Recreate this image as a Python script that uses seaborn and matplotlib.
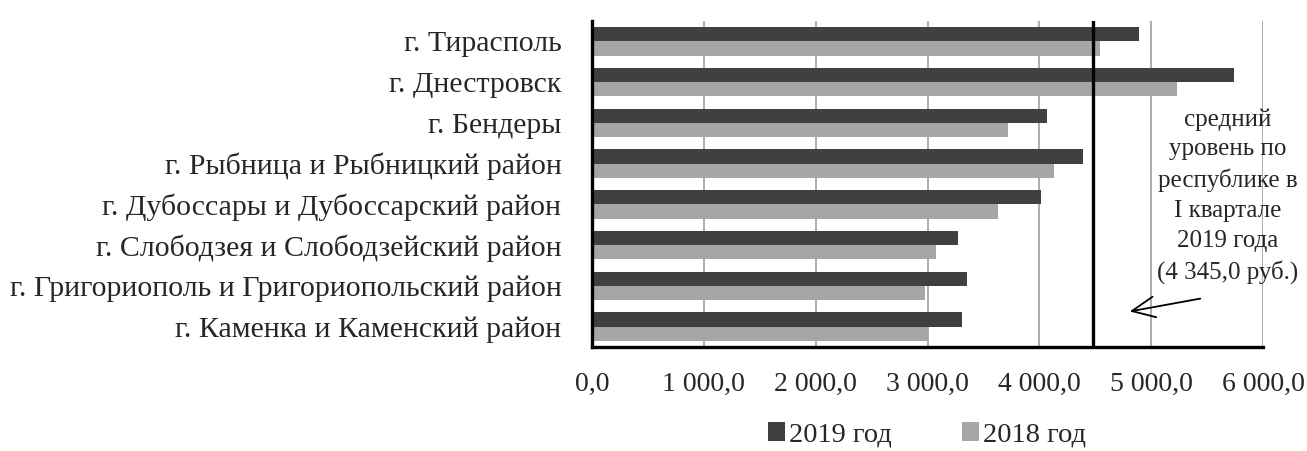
# ==========================================================
# СРЕДНЯЯ ЗАРАБОТНАЯ ПЛАТА ПО ГОРОДАМ И РАЙОНАМ
# ==========================================================

import pandas as pd
import matplotlib.pyplot as plt
import seaborn as sns
from matplotlib.patches import Patch
from matplotlib.ticker import FuncFormatter

# ==========================================================
# DATA
# ==========================================================

regions = [
    "г. Тирасполь",
    "г. Днестровск",
    "г. Бендеры",
    "г. Рыбница и Рыбницкий район",
    "г. Дубоссары и Дубоссарский район",
    "г. Слободзея и Слободзейский район",
    "г. Григориополь и Григориопольский район",
    "г. Каменка и Каменский район",
]

values_2019 = [4888, 5744, 4072, 4388, 4016, 3276, 3352, 3308]

values_2018 = [4544, 5228, 3724, 4132, 3632, 3076, 2980, 3004]

series = ["2019 год", "2018 год"]

avg_level = 4480

avg_text = "средний\nуровень по\nреспублике в\nI квартале\n2019 года\n(4 345,0 руб.)"

x_ticks = [0, 1000, 2000, 3000, 4000, 5000, 6000]

# ==========================================================
# LONG TABLE
# ==========================================================

df = pd.DataFrame({
    "Region": regions * 2,
    "Value": values_2019 + values_2018,
    "Year": [series[0]] * len(regions) + [series[1]] * len(regions)
})

# ==========================================================
# PLOT
# ==========================================================

sns.set_style("white")

plt.rcParams["font.family"] = ["Liberation Serif", "DejaVu Serif"]

colors = {"2019 год": "#404040", "2018 год": "#a6a6a6"}

fig = plt.figure(figsize=(13.07, 4.51), dpi=100)

ax = fig.add_axes([592 / 1307, 1 - 347 / 451, 671 / 1307, 326 / 451])

ax.set_axisbelow(True)

for x in x_ticks[1:]:
    ax.axvline(x, color="#a6a6a6", lw=1.3, zorder=0)

sns.barplot(
    data=df,
    y="Region",
    x="Value",
    hue="Year",
    order=regions,
    hue_order=series,
    palette=colors,
    orient="h",
    width=0.7,
    saturation=1,
    linewidth=0,
    legend=False,
    ax=ax
)

ax.axvline(avg_level, color="black", lw=2.4, zorder=3)

ax.set_xlim(0, 6000)
ax.set_ylim(len(regions) - 0.5, -0.5)

ax.set_xlabel("")
ax.set_ylabel("")

# spines
for side in ["top", "right"]:
    ax.spines[side].set_visible(False)

for side in ["left", "bottom"]:
    ax.spines[side].set_color("black")
    ax.spines[side].set_linewidth(2.4)

# x ticks
ax.set_xticks(x_ticks)
ax.xaxis.set_major_formatter(
    FuncFormatter(lambda v, p: f"{v:,.1f}".replace(",", " ").replace(".", ","))
)
ax.tick_params(axis="x", direction="out", length=6, width=2,
               color="black", labelsize=20, pad=12)

# y ticks: marks at boundaries, labels at centres
ax.set_yticks([i - 0.5 for i in range(len(regions) + 1)])
ax.set_yticklabels([])
ax.set_yticks(range(len(regions)), minor=True)
ax.set_yticklabels(regions, minor=True)
ax.tick_params(axis="y", which="major", direction="out", length=6,
               width=2, color="black")
ax.tick_params(axis="y", which="minor", length=0, labelsize=21.5, pad=22)

# ==========================================================
# ANNOTATION
# ==========================================================

fig.text(
    1228 / 1307,
    1 - 196 / 451,
    avg_text,
    ha="center",
    va="center",
    fontsize=18,
    linespacing=1.45
)

ax.annotate(
    "",
    xy=(4784, 6.64),
    xytext=(5464, 6.30),
    arrowprops=dict(arrowstyle="->,head_length=0.55,head_width=0.25",
                    lw=1.3, mutation_scale=30, color="black"),
    annotation_clip=False
)

# ==========================================================
# LEGEND
# ==========================================================

handles = [Patch(facecolor=colors[s], edgecolor="none") for s in series]

fig.legend(
    handles,
    series,
    loc="center",
    bbox_to_anchor=(927 / 1307, 1 - 435 / 451),
    ncol=2,
    frameon=False,
    fontsize=20.5,
    handlelength=0.6,
    handleheight=0.6,
    handletextpad=0.15,
    columnspacing=2.45
)

plt.savefig("out.png", dpi=100)
plt.close()
